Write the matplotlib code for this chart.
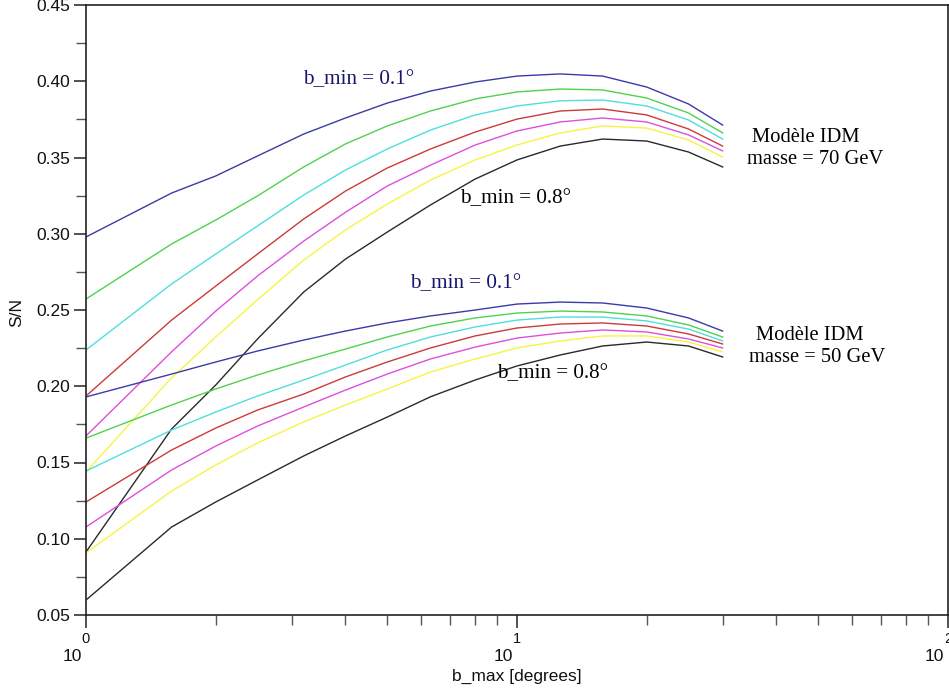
import matplotlib
matplotlib.use("Agg")
import matplotlib.pyplot as plt
from matplotlib.ticker import MultipleLocator, LogLocator, NullFormatter, FormatStrFormatter

# ---- data ----
b_max = [1, 1.58, 2, 2.5, 3.2, 4, 5, 6.3, 8, 10, 12.6, 15.8, 20, 25, 30]

# Modele IDM, masse = 70 GeV  (b_min = 0.1 ... 0.8 deg)
sn70_blue    = [0.2979, 0.3267, 0.3379, 0.3510, 0.3654, 0.3759, 0.3857, 0.3936, 0.3995, 0.4034, 0.4048, 0.4034, 0.3962, 0.3851, 0.3713]
sn70_green   = [0.2572, 0.2933, 0.3090, 0.3248, 0.3438, 0.3589, 0.3707, 0.3805, 0.3884, 0.3930, 0.3949, 0.3943, 0.3890, 0.3792, 0.3661]
sn70_cyan    = [0.2238, 0.2671, 0.2867, 0.3051, 0.3254, 0.3418, 0.3556, 0.3680, 0.3779, 0.3838, 0.3872, 0.3877, 0.3838, 0.3746, 0.3621]
sn70_red     = [0.1936, 0.2434, 0.2657, 0.2867, 0.3097, 0.3280, 0.3431, 0.3556, 0.3667, 0.3752, 0.3805, 0.3818, 0.3779, 0.3687, 0.3575]
sn70_magenta = [0.1674, 0.2226, 0.2493, 0.2723, 0.2952, 0.3141, 0.3313, 0.3450, 0.3582, 0.3674, 0.3733, 0.3759, 0.3733, 0.3648, 0.3543]
sn70_yellow  = [0.1438, 0.2055, 0.2323, 0.2567, 0.2828, 0.3025, 0.3195, 0.3352, 0.3484, 0.3582, 0.3661, 0.3707, 0.3693, 0.3615, 0.3503]
sn70_black   = [0.0913, 0.1720, 0.2008, 0.2310, 0.2618, 0.2834, 0.3011, 0.3189, 0.3359, 0.3484, 0.3575, 0.3621, 0.3608, 0.3536, 0.3438]

# Modele IDM, masse = 50 GeV
sn50_blue    = [0.1930, 0.2080, 0.2159, 0.2231, 0.2303, 0.2362, 0.2415, 0.2461, 0.2500, 0.2539, 0.2552, 0.2546, 0.2513, 0.2448, 0.2362]
sn50_green   = [0.1660, 0.1877, 0.1982, 0.2074, 0.2166, 0.2244, 0.2323, 0.2395, 0.2448, 0.2480, 0.2493, 0.2487, 0.2461, 0.2402, 0.2323]
sn50_cyan    = [0.1444, 0.1713, 0.1831, 0.1936, 0.2041, 0.2139, 0.2238, 0.2323, 0.2389, 0.2434, 0.2454, 0.2454, 0.2428, 0.2375, 0.2297]
sn50_red     = [0.1241, 0.1582, 0.1726, 0.1844, 0.1949, 0.2061, 0.2159, 0.2251, 0.2330, 0.2382, 0.2408, 0.2415, 0.2395, 0.2343, 0.2277]
sn50_magenta = [0.1077, 0.1451, 0.1608, 0.1739, 0.1864, 0.1975, 0.2080, 0.2179, 0.2257, 0.2316, 0.2349, 0.2369, 0.2356, 0.2310, 0.2251]
sn50_yellow  = [0.0907, 0.1313, 0.1484, 0.1628, 0.1766, 0.1877, 0.1982, 0.2093, 0.2179, 0.2251, 0.2297, 0.2330, 0.2330, 0.2290, 0.2225]
sn50_black   = [0.0598, 0.1077, 0.1241, 0.1385, 0.1543, 0.1674, 0.1798, 0.1931, 0.2041, 0.2133, 0.2205, 0.2264, 0.2290, 0.2264, 0.2192]

colors = ['#3b3ba6', '#4fd24f', '#4fdede', '#cc3a3a', '#dd4fdd', '#f5f542', '#2a2a2a']
series70 = [sn70_blue, sn70_green, sn70_cyan, sn70_red, sn70_magenta, sn70_yellow, sn70_black]
series50 = [sn50_blue, sn50_green, sn50_cyan, sn50_red, sn50_magenta, sn50_yellow, sn50_black]

x_major = [1, 10, 100]
x_exp_labels = ['0', '1', '2']
y_ticks = [0.05, 0.10, 0.15, 0.20, 0.25, 0.30, 0.35, 0.40, 0.45]

plt.rcParams['font.family'] = ['Liberation Sans', 'DejaVu Sans']

fig = plt.figure(figsize=(9.49, 6.93), dpi=100)
ax = fig.add_axes([86 / 949, 1 - 615 / 693, 862 / 949, 610 / 693])

for ys, c in zip(series70, colors):
    ax.plot(b_max, ys, color=c, lw=1.0)
for ys, c in zip(series50, colors):
    ax.plot(b_max, ys, color=c, lw=1.0)

ax.set_xscale('log')
ax.set_xlim(1, 100)
ax.set_ylim(0.05, 0.45)

ax.set_yticks(y_ticks)
ax.yaxis.set_major_formatter(FormatStrFormatter('%.2f'))
ax.yaxis.set_minor_locator(MultipleLocator(0.025))
ax.set_xticks(x_major)
ax.set_xticklabels([])
ax.xaxis.set_minor_locator(LogLocator(base=10, subs=range(2, 10)))
ax.xaxis.set_minor_formatter(NullFormatter())

ax.tick_params(axis='both', which='major', direction='out', length=9, width=1.1, labelsize=12.5, colors='#222222')
ax.tick_params(axis='both', which='minor', direction='out', length=7, width=1.0, colors='#555555')
ax.tick_params(axis='y', labelcolor='#111111', pad=2.5)
for s in ax.spines.values():
    s.set_linewidth(1.2)
    s.set_color('#222222')

# log tick labels: exponent under the tick, "10" below-left
for xv, e in zip(x_major, x_exp_labels):
    ax.annotate(e, xy=(xv, 0), xycoords=('data', 'axes fraction'),
                xytext=(0, -17), textcoords='offset points',
                ha='center', va='center', fontsize=10.5, color='#111111')
    ax.annotate('10', xy=(xv, 0), xycoords=('data', 'axes fraction'),
                xytext=(-10, -30), textcoords='offset points',
                ha='center', va='center', fontsize=12.5, color='#111111')

fig.text(517 / 949, 1 - 676 / 693, 'b_max [degrees]', ha='center', va='center', fontsize=12.5, color='#111111')
fig.text(17 / 949, 1 - 312 / 693, 'S/N', ha='center', va='center', rotation=90, fontsize=12.5, color='#111111')

serif = ['Liberation Serif', 'DejaVu Serif']
navy = '#15156e'

def put(px, py, s, color='black', ha='left', size=15.2):
    fig.text(px / 949, 1 - py / 693, s, ha=ha, va='center', fontsize=size, color=color, family=serif)

put(303, 80, 'b_min = 0.1°', navy)
put(460, 199, 'b_min = 0.8°')
put(410, 284, 'b_min = 0.1°', navy)
put(497, 374, 'b_min = 0.8°')
put(806, 137, 'Modèle IDM', ha='center', size=14.8)
put(815, 159, 'masse = 70 GeV', ha='center', size=14.8)
put(810, 336, 'Modèle IDM', ha='center', size=14.8)
put(817, 358, 'masse = 50 GeV', ha='center', size=14.8)

fig.savefig('out.png', dpi=100)
